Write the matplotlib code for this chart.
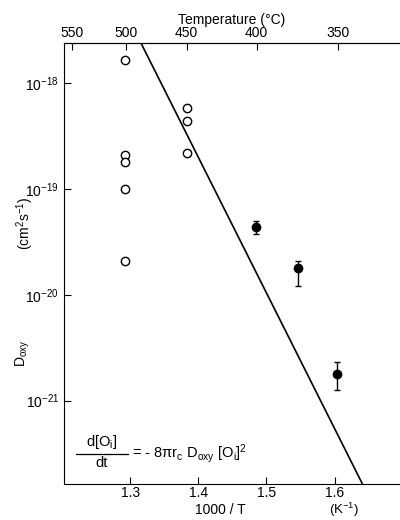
import numpy as np
import matplotlib.pyplot as plt

plt.rcParams['font.family'] = ['Liberation Sans', 'DejaVu Sans']
plt.rcParams['mathtext.fontset'] = 'custom'
plt.rcParams['mathtext.rm'] = 'Liberation Sans'
plt.rcParams['mathtext.it'] = 'Liberation Sans'

# open circles: earlier diffusivity data at 500 and 450 C
open_x = [1.293, 1.293, 1.293, 1.293, 1.293, 1.383, 1.383, 1.383]
open_y = [1.65e-18, 2.1e-19, 1.8e-19, 1.0e-19, 2.1e-20, 5.9e-19, 4.4e-19, 2.2e-19]

# filled points with error bars
fill_x = [1.484, 1.546, 1.604]
fill_y = [4.35e-20, 1.8e-20, 1.77e-21]
err_lo = [0.6e-20, 0.6e-20, 0.5e-21]
err_hi = [0.6e-20, 0.3e-20, 0.55e-21]

# extrapolated line
line_x = [1.316, 1.641]
line_y = [2.4e-18, 1.62e-22]

top_ticks = [550, 500, 450, 400, 350]

fig = plt.figure(figsize=(4, 5.2), dpi=100)
ax = fig.add_axes([0.16, 0.069, 0.84, 0.848])

ax.plot(line_x, line_y, color='black', lw=1.2)
ax.plot(open_x, open_y, 'o', mfc='white', mec='black', ms=6, mew=1)
ax.errorbar(fill_x, fill_y, yerr=[err_lo, err_hi], fmt='o', color='black',
            ms=6, capsize=2, elinewidth=1, capthick=1)

ax.set_yscale('log')
ax.set_xlim(1.203, 1.696)
ax.set_ylim(10**-21.79, 10**-17.62)
ax.set_yticks([1e-18, 1e-19, 1e-20, 1e-21])
ax.set_yticklabels(['10$^{-18}$', '10$^{-19}$', '10$^{-20}$', '10$^{-21}$'])
ax.yaxis.set_minor_locator(plt.NullLocator())
ax.set_xticks([1.3, 1.4, 1.5, 1.6])
ax.set_xticklabels(['1.3', '1.4', '1.5', '1.6'])
ax.tick_params(direction='in', length=5, labelsize=10)
ax.tick_params(axis='x', pad=1.5)
ax.spines['right'].set_visible(False)

sec = ax.secondary_xaxis('top', functions=(lambda x: 1000 / x - 273.15,
                                           lambda c: 1000 / (c + 273.15)))
sec.set_xticks(top_ticks)
sec.set_xticklabels([str(t) for t in top_ticks])
sec.tick_params(direction='in', length=5, labelsize=10, pad=2)
sec.set_xlabel('Temperature (°C)', fontsize=10, labelpad=2)

fig.text(0.55, 0.012, '1000 / T', ha='center', va='baseline', fontsize=10)
fig.text(0.86, 0.012, '(K$^{-1}$)', ha='center', va='baseline', fontsize=9.5)
fig.text(0.035, 0.32, 'D$_{oxy}$', rotation=90, va='center', fontsize=10)
fig.text(0.035, 0.57, '(cm$^2$s$^{-1}$)', rotation=90, va='center', fontsize=10)

# rate equation, fraction built by hand so it keeps full size
ex, ey = 76, 454
ax.annotate('d[O$_i$]', xy=(ex + 26, 520 - ey + 3), xycoords='figure pixels',
            ha='center', va='bottom', fontsize=10.5)
ax.annotate('dt', xy=(ex + 26, 520 - ey - 2), xycoords='figure pixels',
            ha='center', va='top', fontsize=10.5)
fig.add_artist(plt.Line2D([ex / 400, (ex + 52) / 400], [(520 - ey) / 520] * 2,
                          color='black', lw=0.9))
ax.annotate('= - 8$\\pi$r$_c$ D$_{oxy}$ [O$_i$]$^2$', xy=(ex + 56, 520 - ey),
            xycoords='figure pixels', ha='left', va='center', fontsize=10.5)

fig.savefig('out.png', dpi=100)
